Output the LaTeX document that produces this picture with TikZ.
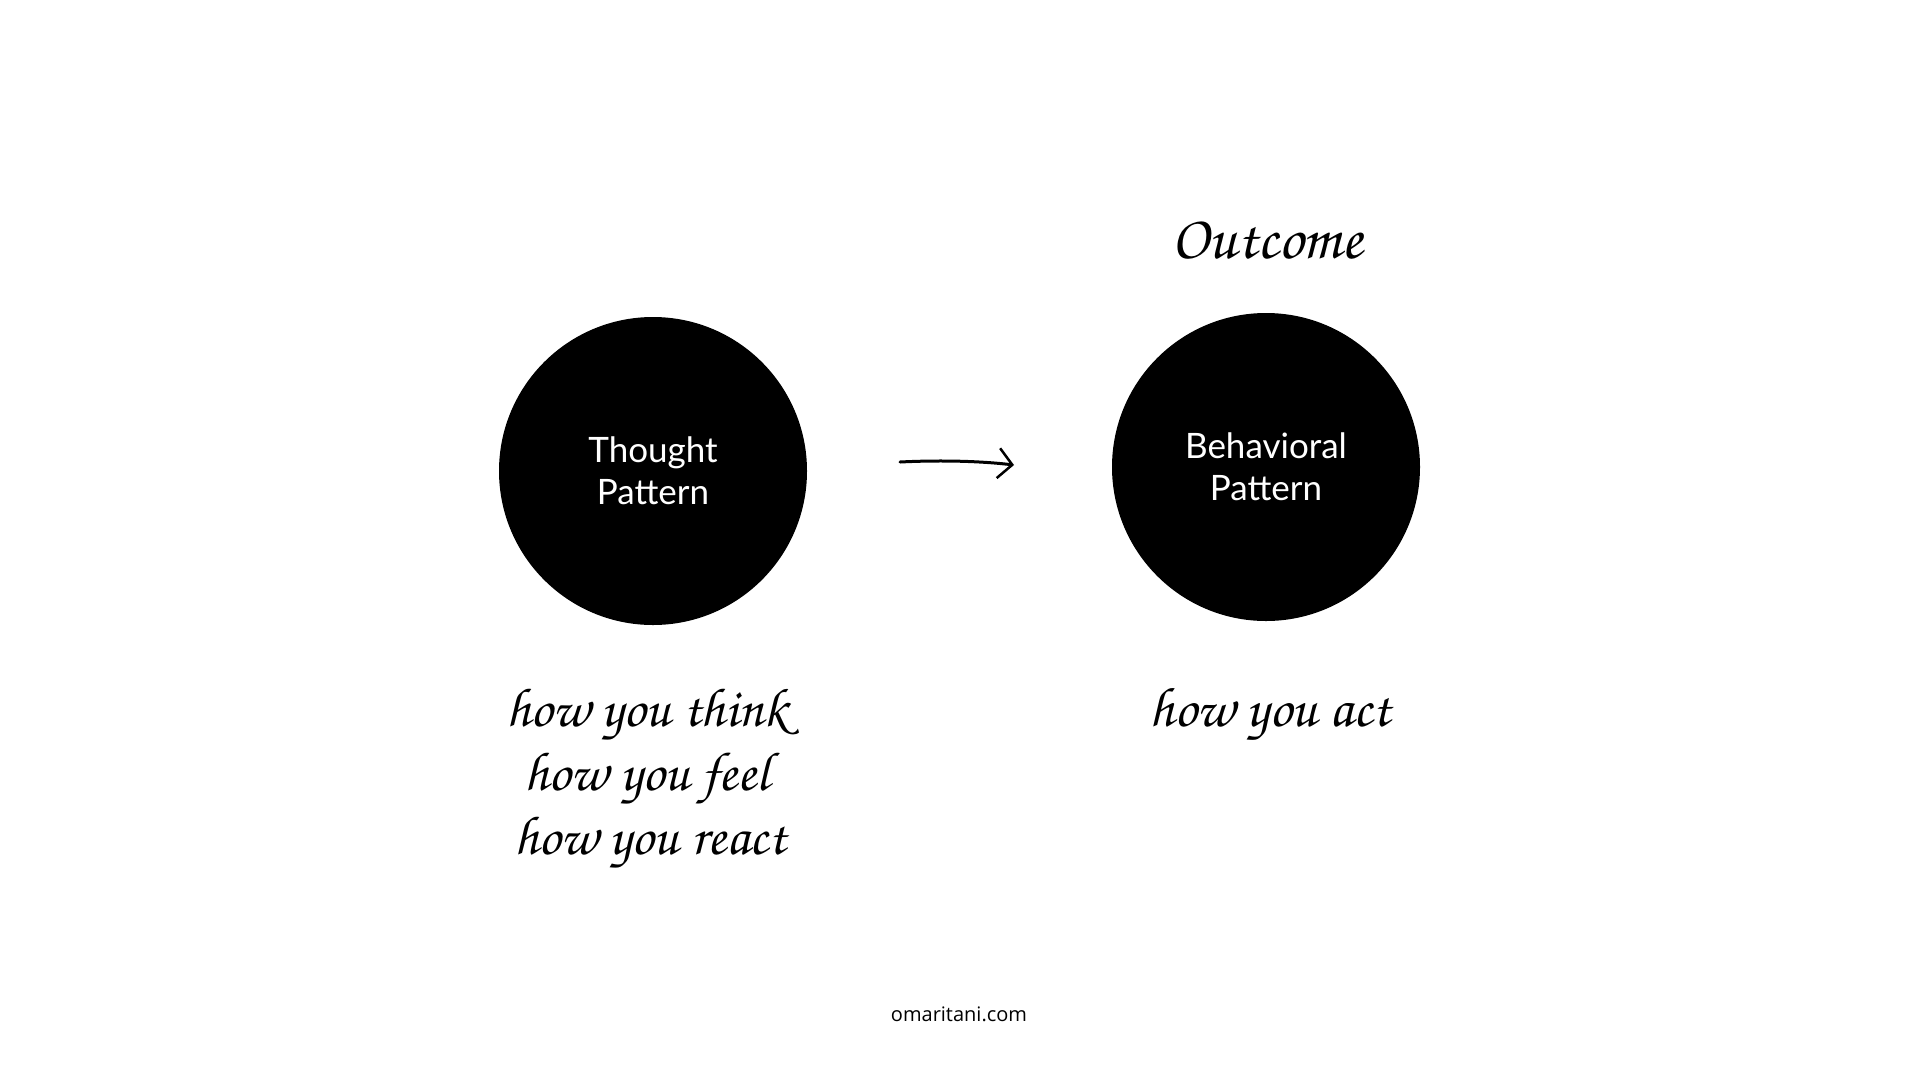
\documentclass[tikz,border=0pt]{standalone}
\usepackage[T1,TU]{fontenc}
\usepackage{fontspec}
\setmainfont{Lato}
\newfontfamily\footfont{Open Sans}
\newcommand{\scriptfnt}{\fontencoding{T1}\fontfamily{pzc}\fontseries{mb}\fontshape{it}\selectfont}
\usetikzlibrary{arrows.meta}
\begin{document}
\begin{tikzpicture}[x=1pt,y=-1pt,
  blob/.style={circle,fill=black,minimum size=308pt,inner sep=0pt,text=white,align=center,
    font=\fontsize{35}{42}\selectfont},
  hand/.style={anchor=base,inner sep=0pt,font=\scriptfnt\fontsize{55}{64}\selectfont},
  foot/.style={font=\footfont\fontsize{20}{24}\selectfont}]
\useasboundingbox (0,0) rectangle (1920,1080);
\fill[white] (0,0) rectangle (1920,1080);
\node[blob] (thought) at (653,471) {Thought\\Pattern};
\node[blob] (behav) at (1266,467) {Behavioral\\Pattern};
\node[hand,font=\scriptfnt\fontsize{62}{64}\selectfont] (outcome) at (1267,258) {Outcome};
\node[hand] (think) at (647,726) {how you think};
\node[hand] (feel) at (647,790) {how you feel};
\node[hand] (react) at (650,854) {how you react};
\node[hand,font=\scriptfnt\fontsize{56}{64}\selectfont] (act) at (1270,726) {how you act};
\node[foot] (site) at (959,1014) {omaritani.com};
\coordinate (a1) at (900,462);
\coordinate (a2) at (1014,465);
\draw[line width=3pt,line cap=round,-{Straight Barb[length=14pt,width=30pt,line width=2.5pt]}]
  (a1) .. controls (940,460) and (980,461) .. (a2);
\end{tikzpicture}
\end{document}
